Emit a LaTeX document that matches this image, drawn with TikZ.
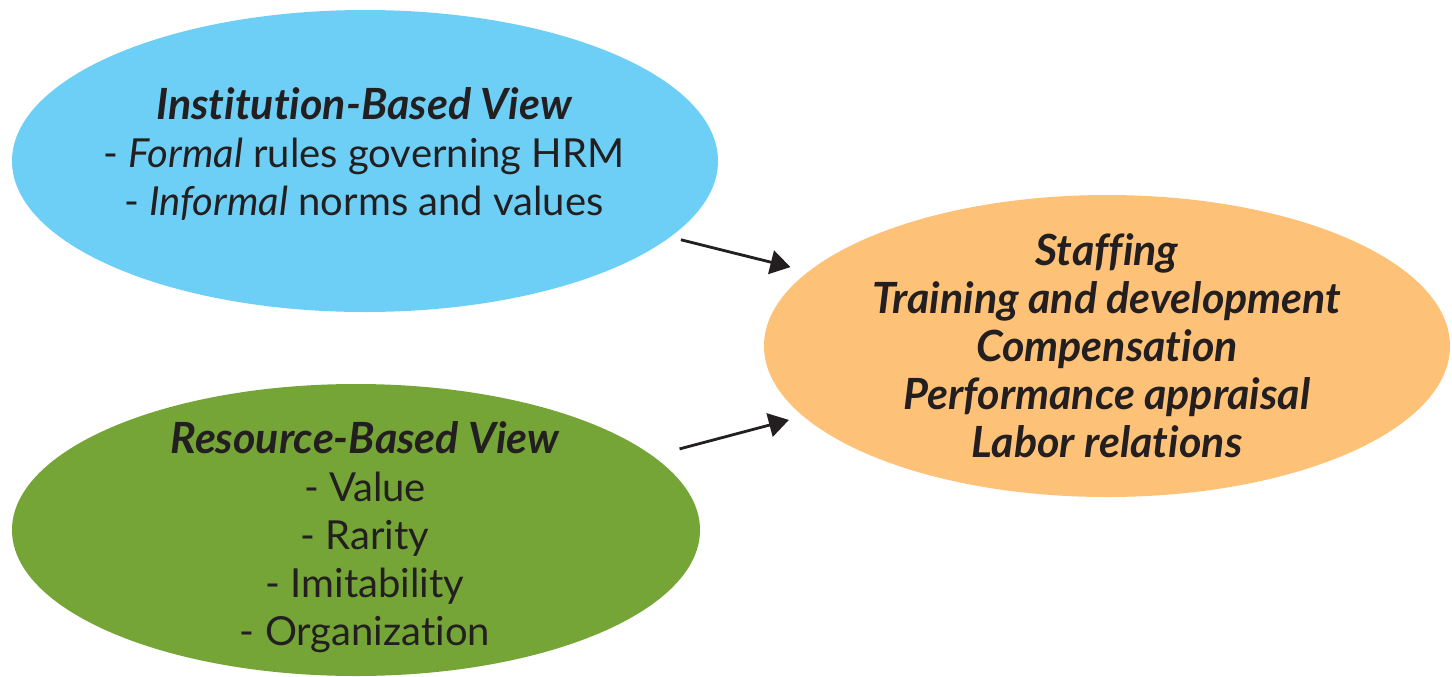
\documentclass[tikz,border=0pt]{standalone}
\usepackage{fontspec}
\setmainfont{Lato}[Ligatures=NoCommon]
\usetikzlibrary{arrows.meta,shapes.geometric}
\definecolor{ibvblue}{HTML}{6DCFF6}
\definecolor{rbvgreen}{HTML}{75A536}
\definecolor{hrmorange}{HTML}{FDC278}
\definecolor{ink}{HTML}{231F20}
\newcommand{\headfont}{\fontsize{21.5}{24}\selectfont\bfseries\itshape}
\begin{document}
\begin{tikzpicture}[x=0.5pt,y=-0.5pt,
  blob/.style={ellipse, draw=none, inner sep=0pt},
  txt/.style={align=center, text=ink, inner sep=0pt,
    font=\fontsize{20}{24}\selectfont},
  link/.style={draw=ink, line width=1.4pt,
    -{Triangle[length=10pt,width=12pt]}}
]
\useasboundingbox (0,0) rectangle (1452,676);

% the three views
\node[blob, fill=ibvblue, minimum width=353pt, minimum height=151pt] (ibv) at (365,161) {};
\node[blob, fill=rbvgreen, minimum width=344pt, minimum height=146pt] (rbv) at (356,530) {};
\node[blob, fill=hrmorange, minimum width=343pt, minimum height=151pt] (hrm) at (1107,346) {};

% texts
\node[txt] (ibvtext) at (364,154)
  {{\headfont Institution-Based View}\\
   - \textit{Formal} rules governing HRM\\
   - \textit{Informal} norms and values};
\node[txt] (rbvtext) at (365,537)
  {{\headfont Resource-Based View}\\
   - Value\\ - Rarity\\ - Imitability\\ - Organization};
\node[txt, font=\headfont] (hrmtext) at (1107,346)
  {Staffing\\ Training and development\\ Compensation\\
   Performance appraisal\\ Labor relations};

% influences
\draw[link, shorten <=5.4pt, shorten >=9.1pt] (ibv.-14) -- (hrm.166);
\draw[link, shorten <=13.7pt, shorten >=7.2pt] (rbv.14) -- (hrm.193);
\end{tikzpicture}
\end{document}
